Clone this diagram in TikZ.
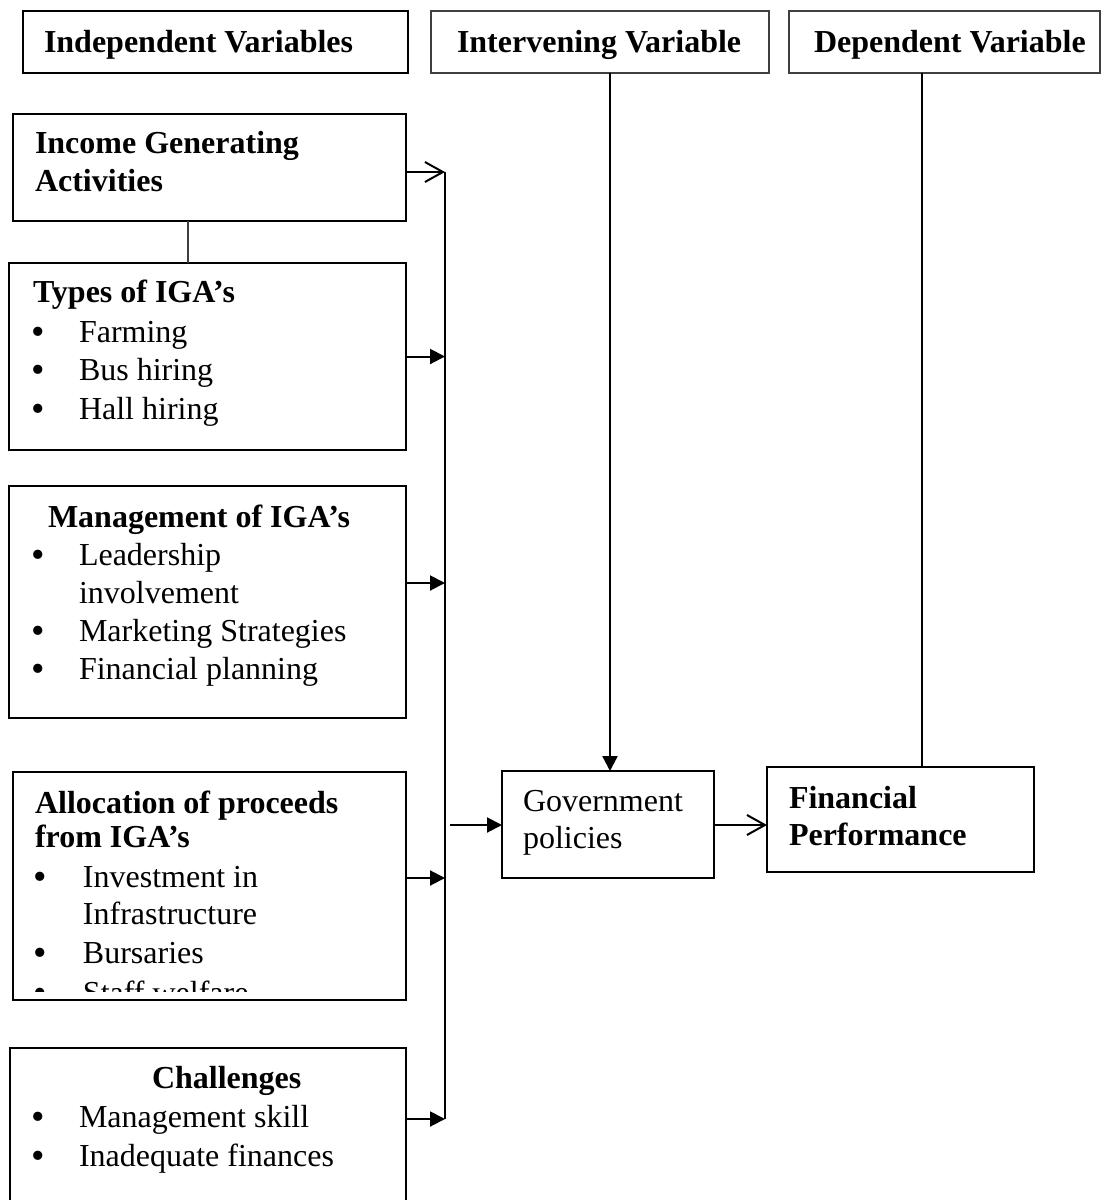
\documentclass[tikz,border=0pt]{standalone}
\usepackage{fontspec}
\usepackage{graphicx}
\setmainfont{Liberation Serif}
\usetikzlibrary{arrows.meta}
\newcommand{\bigbul}{\raisebox{-1pt}[7pt][0pt]{\scalebox{1.2}{\textbullet}}}
\begin{document}
\begin{tikzpicture}[x=0.5pt,y=-0.5pt,
  every node/.style={inner sep=0pt, outer sep=0pt},
  font=\fontsize{16}{19}\selectfont,
  box/.style={draw, line width=1.3pt, anchor=north west},
  hbox/.style={draw=black!75, line width=0.6pt, anchor=north west},
  txt/.style={anchor=base west},
  btxt/.style={anchor=base west, font=\fontsize{16}{19}\selectfont\bfseries},
  bul/.style={anchor=base},
  conn/.style={line width=1pt},
  fillarr/.style={conn, -{Triangle[length=7.5pt,width=7.5pt]}},
  openarr/.style={conn, -{Straight Barb[length=9pt,width=10pt,line width=1pt]}},
]
\useasboundingbox (0,0) rectangle (1108,1200);

% header boxes
\node[box, minimum width=192.5pt, minimum height=31pt] (h1) at (23,11) {};
\node[hbox, minimum width=169pt, minimum height=31pt] (h2) at (431,11) {};
\node[hbox, minimum width=155.5pt, minimum height=31pt] (h3) at (789,11) {};
\node[btxt] (h1t) at (44,52) {Independent Variables};
\node[btxt] (h2t) at (457,52) {Intervening Variable};
\node[btxt] (h3t) at (814,52) {Dependent Variable};

% left boxes
\node[box, minimum width=196.5pt, minimum height=53.5pt] (iga) at (13,114) {};
\node[box, minimum width=198.5pt, minimum height=93.5pt] (types) at (9,263) {};
\node[box, minimum width=198.5pt, minimum height=116pt] (mgmt) at (9,486) {};
\node[box, minimum width=196.5pt, minimum height=114pt] (alloc) at (13,772) {};
\node[box, minimum width=198pt, minimum height=81pt] (chal) at (10,1048) {};

% right boxes
\node[box, minimum width=106pt, minimum height=53.5pt] (gov) at (502,771) {};
\node[box, minimum width=133.5pt, minimum height=52.5pt] (fin) at (767,767) {};

% IGA text
\node[btxt] (ig1) at (35,153) {Income Generating};
\node[btxt] (ig2) at (35,191) {Activities};

% Types text
\node[btxt] (ty0) at (33,302) {Types of IGA’s};
\node[bul] (tyb1) at (38,342) {\bigbul};
\node[txt] (ty1) at (79,342) {Farming};
\node[bul] (tyb2) at (38,380) {\bigbul};
\node[txt] (ty2) at (79,380) {Bus hiring};
\node[bul] (tyb3) at (38,419) {\bigbul};
\node[txt] (ty3) at (79,419) {Hall hiring};

% Management text
\node[btxt] (mg0) at (48,527) {Management of IGA’s};
\node[bul] (mgb1) at (38,565) {\bigbul};
\node[txt] (mg1) at (79,565) {Leadership};
\node[txt] (mg1b) at (79,603) {involvement};
\node[bul] (mgb2) at (38,641) {\bigbul};
\node[txt] (mg2) at (79,641) {Marketing Strategies};
\node[bul] (mgb3) at (38,679) {\bigbul};
\node[txt] (mg3) at (79,679) {Financial planning};

% Allocation text
\node[btxt] (al0) at (35,813) {Allocation of proceeds};
\node[btxt] (al0b) at (35,847) {from IGA’s};
\node[bul] (alb1) at (40,887) {\bigbul};
\node[txt] (al1) at (83,887) {Investment in};
\node[txt] (al1b) at (83,924) {Infrastructure};
\node[bul] (alb2) at (40,963) {\bigbul};
\node[txt] (al2) at (83,963) {Bursaries};
\begin{scope}
  \clip (14,773) rectangle (405,991);
  \node[bul] (alb3) at (40,1003) {\bigbul};
  \node[txt] (al3) at (83,1003) {Staff welfare};
\end{scope}

% Challenges text
\node[btxt] (ch0) at (152,1088) {Challenges};
\node[bul] (chb1) at (38,1127) {\bigbul};
\node[txt] (ch1) at (79,1127) {Management skill};
\node[bul] (chb2) at (38,1166) {\bigbul};
\node[txt] (ch2) at (79,1166) {Inadequate finances};

% Government / Financial text
\node[txt] (gv1) at (523,811) {Government};
\node[txt] (gv2) at (523,848) {policies};
\node[btxt] (fn1) at (789,808) {Financial};
\node[btxt] (fn2) at (789,845) {Performance};

% connector coordinates
\coordinate (bt) at (445,172);
\coordinate (b2) at (445,583);
\coordinate (b3) at (445,878);
\coordinate (bb) at (445,1119);
\coordinate (gin) at (450,825);
\coordinate (cx1) at (188,0);
\coordinate (cx2) at (922,0);
\coordinate (cx3) at (610,0);

% bus line and arrows
\draw[line width=0.8pt] (bt) -- (bb);
\draw[openarr] (iga.east |- bt) -- (bt);
\draw[fillarr] (types.east) -- (types.east -| bt);
\draw[fillarr] (mgmt.east |- b2) -- (b2);
\draw[fillarr] (alloc.east |- b3) -- (b3);
\draw[fillarr] (chal.east |- bb) -- (bb);
\draw[fillarr] (gin) -- (gov.west |- gin);
\draw[openarr] (gov.east |- gin) -- (fin.west |- gin);
\draw[line width=1.2pt, -{Triangle[length=7.5pt,width=7.5pt]}] (h2.south -| cx3) -- (gov.north -| cx3);
\draw[line width=1pt] (h3.south -| cx2) -- (fin.north -| cx2);
\draw[line width=0.65pt, black!75] (iga.south -| cx1) -- (types.north -| cx1);
\end{tikzpicture}
\end{document}
